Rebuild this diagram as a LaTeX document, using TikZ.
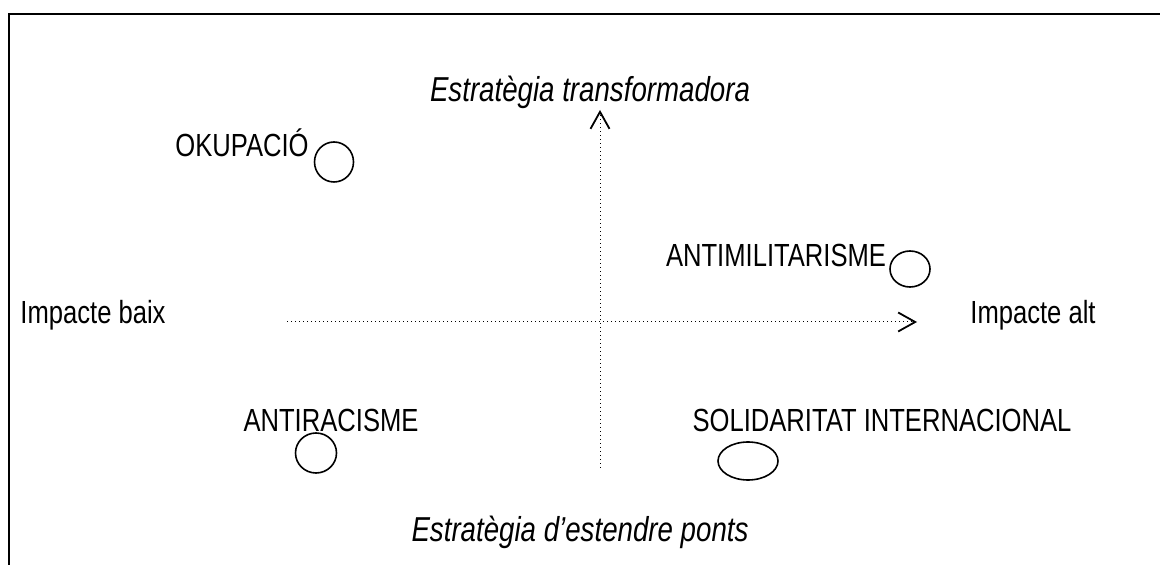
\documentclass[tikz,border=0pt]{standalone}
\usepackage{fontspec}
\setmainfont{Liberation Sans}[FakeStretch=0.8]
\usetikzlibrary{arrows.meta, shapes.geometric, positioning}

\begin{document}
\begin{tikzpicture}[x=0.5pt, y=-0.5pt,
	lbl/.style={inner sep=0pt, anchor=base, font=\fontsize{16}{19}\selectfont},
	ilbl/.style={lbl, font=\fontsize{17.3}{20}\selectfont\itshape},
	ax/.style={line width=0.5pt, dash pattern=on 0.6pt off 1.4pt, -{Straight Barb[length=8.5pt, width=9.5pt, line width=0.9pt]}},
	blob/.style={ellipse, draw, line width=0.8pt, inner sep=0pt}]
			\useasboundingbox (0, 0) rectangle (1160, 565);
			\draw[line width=1.3pt] (9, 565) -- (9, 14) -- (1160, 14);
			
			\coordinate (ybot) at (600, 468);
			\coordinate (ytop) at (600, 110);
			\coordinate (xl) at (287, 322);
			\coordinate (xr) at (917, 322);
			
			\node[ilbl] (top) at (590, 102) {Estratègia transformadora};
			\node[ilbl] (bot) at (580, 541) {Estratègia d’estendre ponts};
			\node[lbl] (low) at (93, 324) {Impacte baix};
			\node[lbl] (high) at (1033, 324) {Impacte alt};
			
			\node[lbl] (okup) at (242, 157) {OKUPACIÓ};
			\node[lbl] (antimil) at (776, 267) {ANTIMILITARISME};
			\node[lbl] (antirac) at (331, 432) {ANTIRACISME};
			\node[lbl] (solid) at (882, 432) {SOLIDARITAT INTERNACIONAL};
			
			\node[blob, minimum width=19.5pt, minimum height=20pt] (c1) at (334, 162) {};
			\node[blob, minimum width=20pt, minimum height=18pt] (c2) at (910, 269) {};
			\node[blob, minimum width=20.5pt, minimum height=20pt] (c3) at (316, 453) {};
			\node[blob, minimum width=30pt, minimum height=19pt] (c4) at (748, 461) {};
			
			\draw[ax] (ybot) -- (ytop);
			\draw[ax] (xl) -- (xr);
			
		\end{tikzpicture}
\end{document}
